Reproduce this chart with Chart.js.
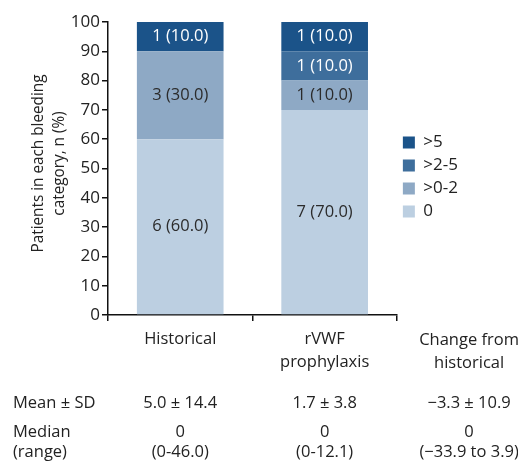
<!DOCTYPE html>
<html>
<head>
<meta charset="utf-8">
<style>
  html, body { margin: 0; padding: 0; background: #fff; }
  #wrap { width: 518px; height: 464px; position: relative; }
</style>
<script src="https://cdn.jsdelivr.net/npm/chart.js@4.4.1/dist/chart.umd.min.js"></script>
</head>
<body>
<div id="wrap"><canvas id="chart" width="518" height="464"></canvas></div>
<script>
// categories on the x axis, plus the extra table column
const categories = [["Historical"], ["rVWF", "prophylaxis"]];
const changeLabel = ["Change from", "historical"];
const yTitle = ["Patients in each bleeding", "category, n (%)"];

// bleeding categories, bottom to top
const seriesNames = ["0", ">0-2", ">2-5", ">5"];
const seriesColors = ["#bccfe1", "#8ea9c5", "#3e6e9c", "#1b5389"];
const seriesText = ["#2b2b2b", "#2b2b2b", "#ffffff", "#ffffff"];

// patients (n) and percent per category
const countsZero = [6, 7];
const countsLow = [3, 1];
const countsMid = [0, 1];
const countsHigh = [1, 1];
const pctZero = [60, 70];
const pctLow = [30, 10];
const pctMid = [0, 10];
const pctHigh = [10, 10];

const yTicks = [0, 10, 20, 30, 40, 50, 60, 70, 80, 90, 100];

// summary table under the chart
const meanSD = ["5.0 ± 14.4", "1.7 ± 3.8", "\u22123.3 ± 10.9"];
const medians = ["0", "0", "0"];
const ranges = ["(0-46.0)", "(0-12.1)", "(\u221233.9 to 3.9)"];

const FONT = "'Open Sans', 'Noto Sans', sans-serif";
const INK = "#222";

const counts = [countsZero, countsLow, countsMid, countsHigh];
const pcts = [pctZero, pctLow, pctMid, pctHigh];

const segmentLabels = {
  id: "segmentLabels",
  afterDatasetsDraw(chart) {
    const ctx = chart.ctx;
    ctx.save();
    ctx.font = "16.5px " + FONT;
    ctx.textAlign = "center";
    ctx.textBaseline = "middle";
    chart.data.datasets.forEach((ds, i) => {
      chart.getDatasetMeta(i).data.forEach((bar, j) => {
        const n = counts[i][j];
        if (!n) return;
        const { x, y, base } = bar.getProps(["x", "y", "base"], true);
        ctx.fillStyle = seriesText[i];
        ctx.fillText(`${n} (${pcts[i][j].toFixed(1)})`, x, (y + base) / 2);
      });
    });
    ctx.restore();
  },
};

// condensed, two-line y title and the summary table
const extraText = {
  id: "extraText",
  afterDraw(chart) {
    const ctx = chart.ctx;
    const xs = chart.scales.x;
    const ys = chart.scales.y;
    const c0 = xs.getPixelForValue(0);
    const c1 = xs.getPixelForValue(1);
    const cols = [c0, c1, c1 + (c1 - c0)];
    ctx.save();
    ctx.fillStyle = INK;
    ctx.textBaseline = "middle";
    ctx.textAlign = "center";

    ctx.save();
    ctx.translate(0, (ys.top + ys.bottom) / 2 - 5);
    ctx.rotate(-Math.PI / 2);
    ctx.scale(0.9, 1);
    ctx.font = "17px " + FONT;
    ctx.fillText(yTitle[0], 0, 38);
    ctx.fillText(yTitle[1], 0, 59);
    ctx.restore();

    ctx.font = "16.5px " + FONT;
    changeLabel.forEach((t, k) => ctx.fillText(t, cols[2], 340 + k * 23));
    ctx.textAlign = "left";
    ctx.fillText("Mean ± SD", 13, 403);
    ctx.fillText("Median", 13, 432);
    ctx.fillText("(range)", 13, 452);
    ctx.textAlign = "center";
    cols.forEach((cx, k) => {
      ctx.fillText(meanSD[k], cx, 403);
      ctx.fillText(medians[k], cx, 432);
      ctx.fillText(ranges[k], cx, 452);
    });
    ctx.restore();
  },
};

new Chart(document.getElementById("chart"), {
  type: "bar",
  data: {
    labels: categories,
    datasets: seriesNames.map((name, i) => ({
      label: name,
      data: pcts[i],
      backgroundColor: seriesColors[i],
      borderWidth: 0,
      categoryPercentage: 1,
      barPercentage: 0.6,
    })),
  },
  options: {
    responsive: false,
    animation: false,
    layout: { padding: { top: 22, right: 50, bottom: 89, left: 0 } },
    plugins: {
      tooltip: { enabled: false },
      legend: {
        position: "right",
        align: "start",
        reverse: true,
        title: { display: true, text: " ", font: { size: 10 }, padding: { top: 94, bottom: 0 } },
        labels: {
          boxWidth: 12,
          boxHeight: 12,
          padding: 6,
          color: INK,
          font: { family: FONT, size: 17 },
        },
      },
    },
    scales: {
      x: {
        stacked: true,
        offset: true,
        afterFit: (s) => { s.height = 60; },
        border: { color: "#111", width: 1.5 },
        grid: { offset: true, drawOnChartArea: false, drawTicks: true, tickLength: 6, color: "#111", lineWidth: 1.5 },
        ticks: { color: INK, font: { family: FONT, size: 16.5, lineHeight: 1.4 }, padding: 7, maxRotation: 0 },
      },
      y: {
        stacked: true,
        min: 0,
        max: 100,
        afterBuildTicks: (s) => { s.ticks = yTicks.map((v) => ({ value: v })); },
        afterFit: (s) => { s.width = 108; },
        border: { color: "#111", width: 1.5 },
        grid: { drawOnChartArea: false, drawTicks: true, tickLength: 6, color: "#111", lineWidth: 1.5 },
        ticks: { color: INK, font: { family: FONT, size: 17 }, padding: 2 },
      },
    },
  },
  plugins: [segmentLabels, extraText],
});
</script>
</body>
</html>
